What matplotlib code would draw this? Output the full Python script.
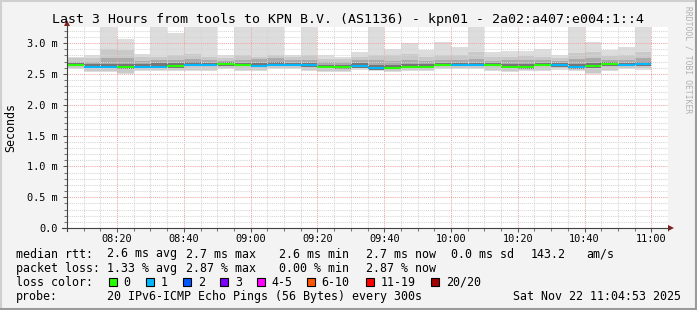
import numpy as np
import matplotlib
matplotlib.use("Agg")
import matplotlib.pyplot as plt
from matplotlib.lines import Line2D
from matplotlib.patches import Polygon

W, H = 697, 310
MONO = "DejaVu Sans Mono"

# 5 minute bins, first bin starts 08:05 (x in minutes after 08:05), values in ms
n_bins = 35
median = [2.64, 2.607, 2.607, 2.605, 2.615, 2.615, 2.62, 2.648, 2.648, 2.654,
          2.64, 2.635, 2.637, 2.65, 2.637, 2.61, 2.605, 2.62, 2.59, 2.60,
          2.618, 2.615, 2.65, 2.65, 2.64, 2.65, 2.618, 2.605, 2.65, 2.637,
          2.607, 2.624, 2.656, 2.645, 2.656]
loss = [0, 1, 1, 0, 1, 1, 0, 1, 1, 0, 0, 1, 1, 1, 1, 0, 0, 1, 1, 0,
        0, 0, 0, 1, 1, 0, 0, 0, 0, 1, 1, 0, 0, 1, 1]
ping_max = [2.77, 2.80, 3.40, 3.07, 2.83, 3.40, 3.16, 3.40, 3.40, 2.80,
            3.40, 3.40, 3.40, 2.81, 3.40, 2.80, 2.77, 2.85, 3.40, 2.91,
            3.00, 2.88, 3.02, 2.93, 3.40, 2.85, 2.87, 2.87, 2.91, 2.81,
            3.40, 3.02, 2.89, 2.93, 3.40]
ping_hi2 = [2.76, 2.76, 2.91, 2.89, 2.78, 2.78, 2.80, 2.82, 2.78, 2.76,
            2.80, 2.78, 2.80, 2.77, 2.80, 2.74, 2.74, 2.78, 2.80, 2.80,
            2.82, 2.78, 2.80, 2.80, 2.86, 2.78, 2.78, 2.79, 2.78, 2.76,
            2.84, 2.86, 2.79, 2.80, 2.86]
ping_q3 = [2.70, 2.70, 2.76, 2.76, 2.71, 2.73, 2.72, 2.74, 2.72, 2.71,
           2.72, 2.74, 2.75, 2.72, 2.73, 2.70, 2.70, 2.72, 2.72, 2.71,
           2.73, 2.71, 2.72, 2.73, 2.74, 2.71, 2.72, 2.72, 2.72, 2.71,
           2.74, 2.75, 2.72, 2.73, 2.75]
core_hi = [2.67, 2.66, 2.66, 2.66, 2.66, 2.68, 2.67, 2.69, 2.68, 2.69,
           2.68, 2.68, 2.69, 2.68, 2.67, 2.65, 2.65, 2.67, 2.64, 2.64,
           2.66, 2.66, 2.68, 2.68, 2.68, 2.67, 2.66, 2.66, 2.68, 2.67,
           2.66, 2.68, 2.69, 2.68, 2.69]
ping_q1 = [2.62, 2.59, 2.59, 2.58, 2.60, 2.60, 2.60, 2.62, 2.62, 2.63,
           2.62, 2.61, 2.62, 2.63, 2.61, 2.59, 2.58, 2.60, 2.57, 2.58,
           2.60, 2.60, 2.63, 2.63, 2.62, 2.62, 2.59, 2.58, 2.63, 2.61,
           2.58, 2.60, 2.63, 2.62, 2.63]
ping_lo2 = [2.60, 2.55, 2.55, 2.52, 2.56, 2.56, 2.57, 2.57, 2.57, 2.60,
            2.57, 2.56, 2.60, 2.60, 2.57, 2.55, 2.55, 2.59, 2.56, 2.55,
            2.56, 2.56, 2.60, 2.60, 2.60, 2.56, 2.55, 2.56, 2.57, 2.59,
            2.56, 2.52, 2.56, 2.60, 2.59]
ping_min = [2.58, 2.53, 2.53, 2.50, 2.54, 2.54, 2.55, 2.55, 2.55, 2.58,
            2.55, 2.54, 2.58, 2.58, 2.55, 2.53, 2.53, 2.57, 2.54, 2.53,
            2.54, 2.54, 2.58, 2.58, 2.58, 2.54, 2.53, 2.54, 2.55, 2.57,
            2.54, 2.50, 2.54, 2.58, 2.57]

xtick_pos = [15, 35, 55, 75, 95, 115, 135, 155, 175]
xtick_labels = ["08:20", "08:40", "09:00", "09:20", "09:40", "10:00", "10:20", "10:40", "11:00"]
ytick_pos = [0.0, 0.5, 1.0, 1.5, 2.0, 2.5, 3.0]
ytick_labels = ["0.0", "0.5 m", "1.0 m", "1.5 m", "2.0 m", "2.5 m", "3.0 m"]

loss_colors = {0: "#26ff00", 1: "#00b8ff", 2: "#0059ff", 3: "#7e00ff",
               5: "#ff00ff", 10: "#ff5500", 19: "#ff0000", 20: "#a00000"}
legend_items = [("0", "#26ff00"), ("1", "#00b8ff"), ("2", "#0059ff"), ("3", "#7e00ff"),
                ("4-5", "#ff00ff"), ("6-10", "#ff5500"), ("11-19", "#ff0000"), ("20/20", "#a00000")]

fig = plt.figure(figsize=(W / 100, H / 100), dpi=100, facecolor="#f3f3f3")

def px(x, y):
    return x / W, 1 - y / H

# plot area 67..668 x 27..228
L, R, T, B = 67, 668, 27, 228
ax = fig.add_axes([L / W, 1 - B / H, (R - L) / W, (B - T) / H])
ax.set_facecolor("white")
ax.set_xlim(0, 180)
ax.set_ylim(0, 3.26)

x = np.arange(n_bins) * 5
bands = [(ping_min, ping_max, "#dddddd"),
         (ping_lo2, ping_hi2, "#c9c9c9"),
         (ping_q1, ping_q3, "#ababab"),
         (ping_q1, core_hi, "#767676")]
for lo, hi, c in bands:
    lo = np.array(lo)
    hi = np.array(hi)
    ax.bar(x, hi - lo, bottom=lo, width=5, align="edge", color=c, linewidth=0, zorder=1)

for i in range(n_bins):
    c = loss_colors[min(k for k in loss_colors if k >= loss[i])]
    ax.hlines(median[i], x[i], x[i] + 5, colors=c, linewidth=1.5, zorder=3)

# grids
ax.set_xticks(xtick_pos)
ax.set_xticks(np.arange(0, 181, 5), minor=True)
ax.set_yticks(ytick_pos)
ax.set_yticks(np.arange(0, 3.26, 0.1), minor=True)
ax.set_axisbelow(False)
ax.grid(which="minor", color="#d6d6d6", linestyle=(0, (1, 1)), linewidth=0.75)
ax.grid(which="major", color="#f0a8a8", linestyle=(0, (1, 1)), linewidth=0.75)
ax.set_xticklabels(xtick_labels, fontfamily=MONO, fontsize=7.4)
ax.set_yticklabels(ytick_labels, fontfamily=MONO, fontsize=7.4)
ax.tick_params(which="major", direction="out", length=3, width=0.75, color="#555555", pad=4)
ax.tick_params(axis="x", which="major", pad=1.5)
ax.tick_params(which="minor", direction="out", length=2, width=0.75, color="#777777")
for s in ax.spines.values():
    s.set_visible(False)

# axes with arrows
fig.add_artist(Line2D([px(62, 0)[0], px(670, 0)[0]], [px(0, 228)[1]] * 2, color="#404040", lw=0.8))
fig.add_artist(Line2D([px(67, 0)[0]] * 2, [px(0, 231)[1], px(0, 24)[1]], color="#404040", lw=0.8))
fig.add_artist(Polygon([px(668, 225), px(668, 231), px(674, 228)], closed=True, color="#8b1a1a", lw=0))
fig.add_artist(Polygon([px(64, 26), px(70, 26), px(67, 20)], closed=True, color="#8b1a1a", lw=0))

fig.text(*px(348, 19), "Last 3 Hours from tools to KPN B.V. (AS1136) - kpn01 - 2a02:a407:e004:1::4",
         ha="center", va="center", fontfamily=MONO, fontsize=9.5, color="#000000")
fig.text(*px(11, 127), "Seconds", rotation=90, ha="center", va="center",
         fontfamily=MONO, fontsize=8.4)
fig.text(*px(688, 60), "RRDTOOL / TOBI OETIKER", rotation=270, ha="center", va="center",
         fontfamily=MONO, fontsize=5.8, color="#b0b0b0")

fs = 8.4
line1 = [(16, "median rtt:"), (107.3, "2.6 ms avg"), (185.7, "2.7 ms max"), (279.3, "2.6 ms min"),
         (366, "2.7 ms now"), (451, "0.0 ms sd"), (530.7, "143.2"), (586, "am/s")]
line2 = [(16, "packet loss:"), (107.3, "1.33 % avg"), (185.7, "2.87 % max"),
         (279.3, "0.00 % min"), (366, "2.87 % now")]
for xx, t in line1:
    fig.text(*px(xx, 254), t, ha="left", va="center", fontfamily=MONO, fontsize=fs)
for xx, t in line2:
    fig.text(*px(xx, 268.5), t, ha="left", va="center", fontfamily=MONO, fontsize=fs)
fig.text(*px(16, 282), "loss color:", ha="left", va="center", fontfamily=MONO, fontsize=fs)
box_x = [108.7, 145.7, 182.7, 220, 256.7, 306.7, 365.7, 430.7]
for bx, (lab, c) in zip(box_x, legend_items):
    fig.add_artist(plt.Rectangle(px(bx, 285.5), 8 / W, 8 / H, facecolor=c, edgecolor="black", lw=0.8))
    fig.text(*px(bx + 15, 282), lab, ha="left", va="center", fontfamily=MONO, fontsize=fs)
fig.text(*px(16, 296.7), "probe:", ha="left", va="center", fontfamily=MONO, fontsize=fs)
fig.text(*px(107.3, 296.7), "20 IPv6-ICMP Echo Pings (56 Bytes) every 300s",
         ha="left", va="center", fontfamily=MONO, fontsize=fs)
fig.text(*px(681, 296.7), "Sat Nov 22 11:04:53 2025", ha="right", va="center",
         fontfamily=MONO, fontsize=fs)

# frame
fig.add_artist(Line2D([0, 1], [1 - 1 / H] * 2, color="#cfcfcf", lw=1.5))
fig.add_artist(Line2D([1 / W] * 2, [0, 1], color="#cfcfcf", lw=1.5))
fig.add_artist(Line2D([0, 1], [1 / H] * 2, color="#9a9a9a", lw=1.5))
fig.add_artist(Line2D([1 - 1 / W] * 2, [0, 1], color="#9a9a9a", lw=1.5))

fig.savefig("out.png", dpi=100, facecolor=fig.get_facecolor())
